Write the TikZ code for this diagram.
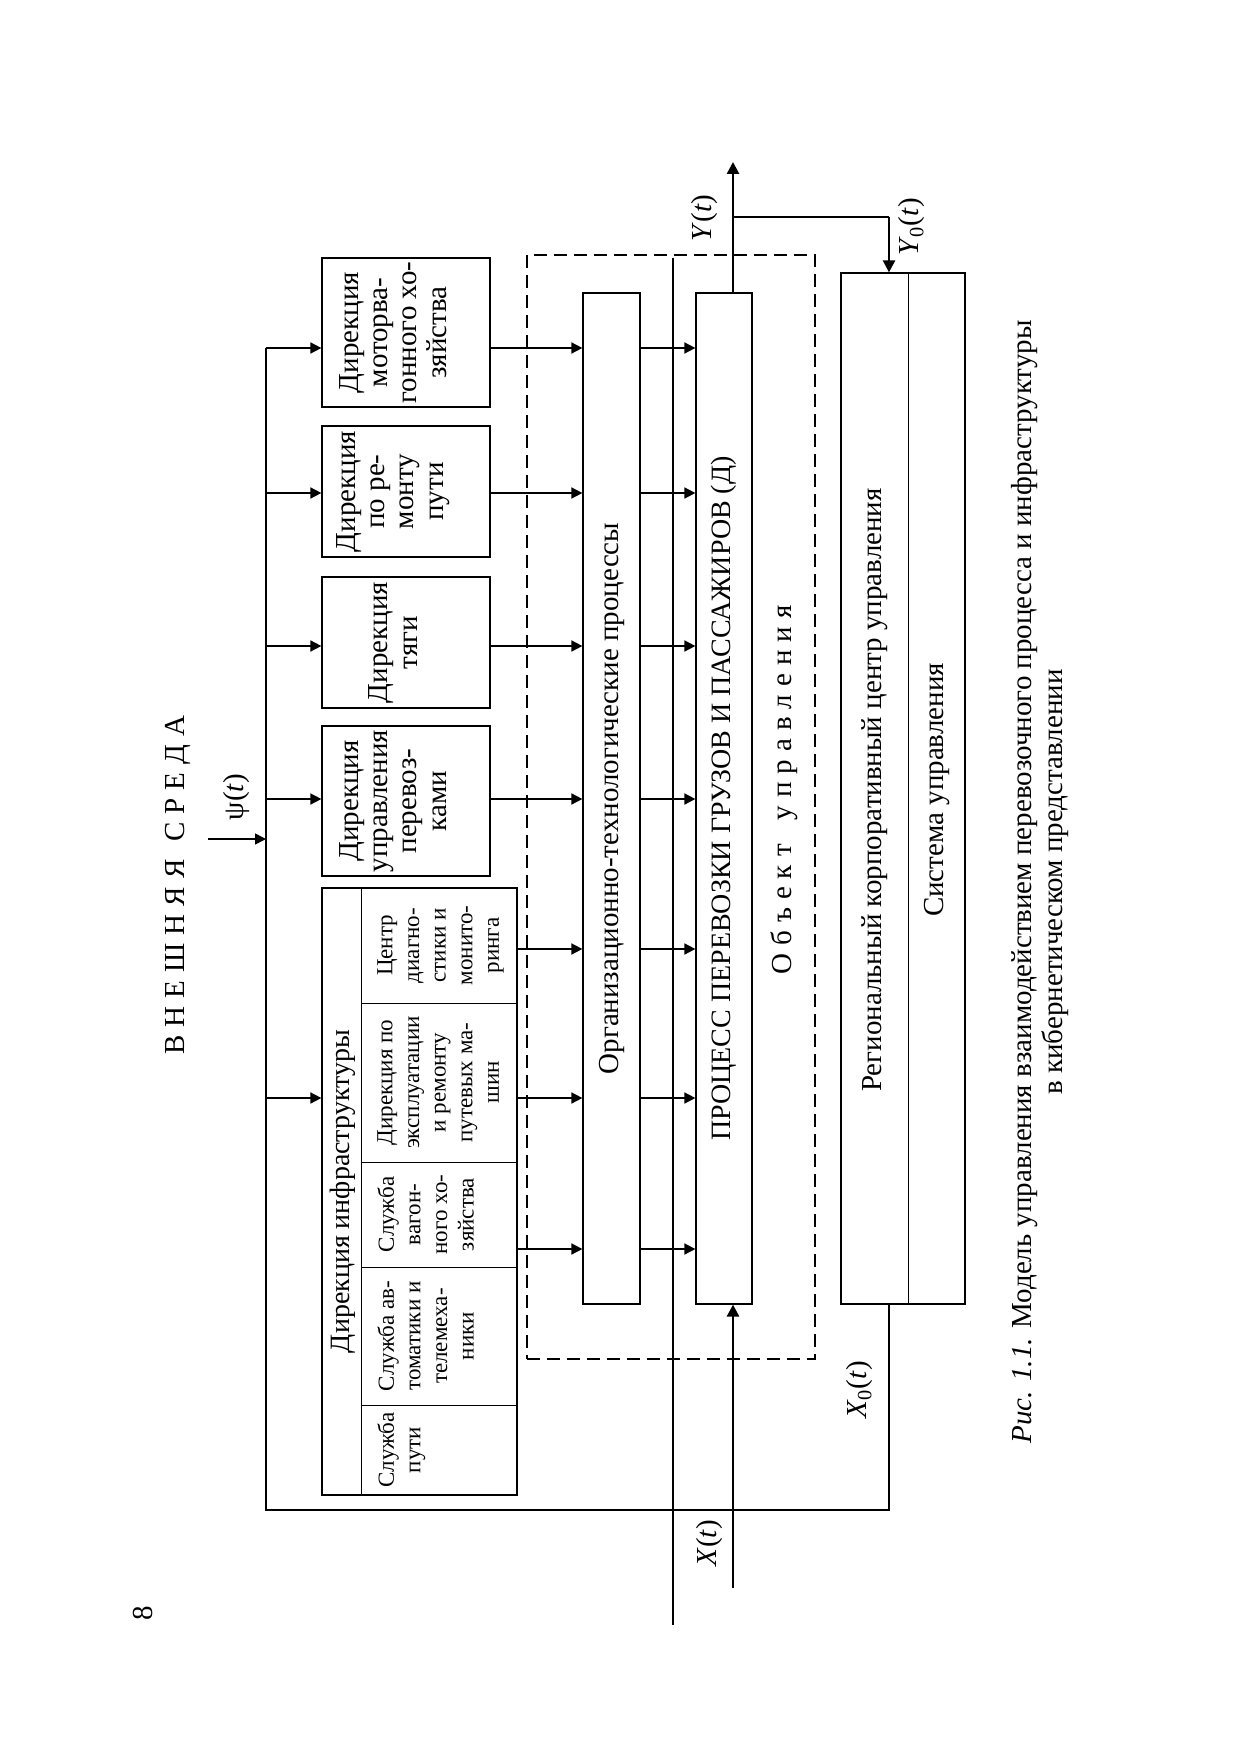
\documentclass[tikz,border=0pt]{standalone}
\usepackage{fontspec}
\setmainfont{Liberation Serif}
\usetikzlibrary{arrows.meta,fit,calc}
\newcommand{\lsp}{\kern4pt}
\begin{document}
\begin{tikzpicture}[x=0.5pt,y=-0.5pt,
  box/.style={draw, line width=0.6pt, inner sep=0pt},
  rot/.style={rotate=90, align=center, inner sep=0pt},
  big/.style={font=\fontsize{14.5pt}{14.6pt}\selectfont},
  sml/.style={font=\fontsize{11.5pt}{13.3pt}\selectfont},
  arr/.style={-{Triangle[length=5.5pt,width=5.5pt]}, line width=0.8pt},
  thk/.style={line width=1.3pt},
  tarr/.style={-{Triangle[length=6pt,width=6pt]}, line width=1.3pt},
  dsh/.style={draw, dash pattern=on 6.5pt off 3.5pt, line width=0.6pt, inner sep=0pt}
]
\fill[white] (0,0) rectangle (1241,1754);
\useasboundingbox (0,0) rectangle (1241,1754);

% boxes
\node[box, fit={(322,258) (490,407)}] (motor) {};
\node[box, fit={(322,426) (490,557)}] (remont) {};
\node[box, fit={(322,577) (490,708)}] (tyagi) {};
\node[box, fit={(322,726) (490,876)}] (uprav) {};
\node[box, fit={(322,888) (517,1495)}] (infra) {};
\node[dsh, fit={(527,255) (815,1359)}] (obj) {};
\node[box, fit={(583,293) (640,1304)}] (org) {};
\node[box, fit={(696,293) (752,1304)}] (proc) {};
\node[box, fit={(841,273) (965,1304)}] (rk) {};

% internal dividers
\draw[line width=0.6pt] ($(infra.north west)+(40,0)$) -- ($(infra.south west)+(40,0)$);
\foreach \yy in {1003,1162,1267,1405}
  \draw[line width=0.5pt] (362,\yy) -- (infra.east |- 362,\yy);
\draw[line width=0.6pt] ($(rk.north west)+(68,0)$) -- ($(rk.south west)+(68,0)$);

% texts in boxes
\node[rot,big] at ($(motor.center)+(-13,0)$) {Дирекция\\моторва-\\гонного хо-\\зяйства};
\node[rot,big] at ($(remont.center)+(-13,0)$) {Дирекция\\по ре-\\монту\\пути};
\node[rot,big] at ($(tyagi.center)+(-13,0)$) {Дирекция\\тяги};
\node[rot,big] at ($(uprav.center)+(-13,0)$) {Дирекция\\управления\\перевоз-\\ками};
\node[rot,font=\fontsize{14pt}{14pt}\selectfont] at ($(infra.west)+(21,0)$) {Дирекция инфраструктуры};
\node[rot,sml,anchor=north] at (377,945.5) {Центр\\диагно-\\стики и\\монито-\\ринга};
\node[rot,sml,anchor=north] at (377,1082.5) {Дирекция по\\эксплуатации\\и ремонту\\путевых ма-\\шин};
\node[rot,sml,anchor=north] at (377,1214.5) {Служба\\вагон-\\ного хо-\\зяйства};
\node[rot,sml,anchor=north] at (377,1336) {Служба ав-\\томатики и\\телемеха-\\ники};
\node[rot,sml,anchor=north] at (377,1450) {Служба\\пути};
\node[rot,big] at (org.center) {Организационно-технологические процессы};
\node[rot,font=\fontsize{14pt}{14pt}\selectfont] at (proc.center) {ПРОЦЕСС ПЕРЕВОЗКИ ГРУЗОВ И ПАССАЖИРОВ (Д)};
\node[rot,big] at (875,790) {Региональный корпоративный центр управления};
\node[rot,big] at (937,790) {Система управления};
\node[rot,big] at (784,790) {О\lsp б\lsp ъ\lsp е\lsp к\lsp т\kern12pt у\lsp п\lsp р\lsp а\lsp в\lsp л\lsp е\lsp н\lsp и\lsp я};
\node[rot,big] at (178,885) {В\lsp Н\lsp Е\lsp Ш\lsp Н\lsp Я\lsp Я\kern9pt С\lsp Р\lsp Е\lsp Д\lsp А};

% connectors
\coordinate (lt) at (266,348);
\coordinate (bl) at (266,1510);
\coordinate (br) at (889,1510);
\draw[thk] (rk.south -| br) -- (br) -- (bl) -- (lt);
\foreach \n/\yy in {motor/348, remont/493, tyagi/646, uprav/799, infra/1098}
  \draw[arr] (266,\yy) -- (\n.west |- 266,\yy);
\foreach \n/\yy in {motor/348, remont/493, tyagi/646, uprav/799, infra/949, infra/1098, infra/1249}
  \draw[arr] (\n.east |- 0,\yy) -- (org.west |- 0,\yy);
\foreach \yy in {348,493,646,799,949,1098,1249}
  \draw[arr] (org.east |- 0,\yy) -- (proc.west |- 0,\yy);

\coordinate (vt) at (673,258);
\coordinate (vb) at (673,1625);
\draw[thk] (vt) -- (vb);

\coordinate (yt) at (733,162);
\coordinate (yb) at (733,217);
\draw[tarr] (proc.north -| yt) -- (yt);
\draw[line width=0.7pt] (yb) -- (yb -| br);
\draw[-{Triangle[length=6pt,width=6pt]}, line width=1.2pt] (yb -| br) -- (rk.north -| br);

\coordinate (xt) at (733,1588);
\draw[tarr] (xt) -- (proc.south -| xt);

\coordinate (ps) at (208,839);
\draw[arr] (ps) -- (ps -| lt);

% labels
\node[rot,big] (psil) at (237,797) {ψ(\textit{t})};
\node[rot,big] (ytl) at (705,218) {\textit{Y}(\textit{t})};
\node[rot,big] (y0l) at (912,227) {\textit{Y}\textsubscript{0}(\textit{t})};
\node[rot,big] (x0l) at (860,1390) {\textit{X}\textsubscript{0}(\textit{t})};
\node[rot,big] (xtl) at (710,1543) {\textit{X}(\textit{t})};
\node[rot,big] (pg) at (143,1613) {8};
\node[rot,font=\fontsize{14.5pt}{15.5pt}\selectfont] (cap) at (1040.5,882) {\textit{Рис. 1.1.} Модель управления взаимодействием перевозочного процесса и инфраструктуры\\в кибернетическом представлении};
\end{tikzpicture}
\end{document}
